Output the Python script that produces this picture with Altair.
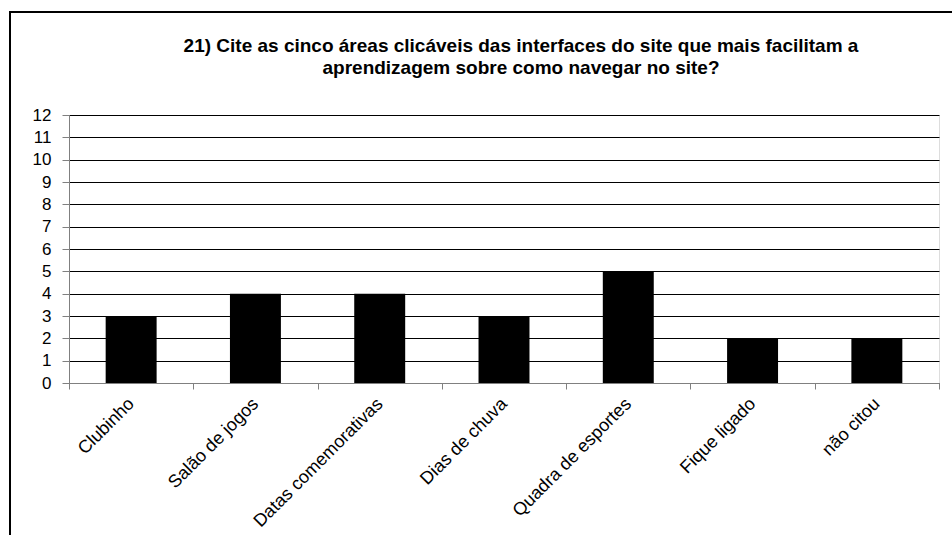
import altair as alt
import pandas as pd

categories = ["Clubinho", "Salão de jogos", "Datas comemorativas", "Dias de chuva",
              "Quadra de esportes", "Fique ligado", "não citou"]
values = [3, 4, 4, 3, 5, 2, 2]
y_ticks = list(range(0, 13))
title_line1 = "21) Cite as cinco áreas clicáveis das interfaces do site que mais facilitam a"
title_line2 = "aprendizagem sobre como navegar no site?"

df = pd.DataFrame({"cat": categories, "val": values})
FONT = "Liberation Sans"

x_enc = alt.X("cat:N", sort=categories, title=None,
              scale=alt.Scale(paddingInner=0, paddingOuter=0),
              axis=alt.Axis(labelAngle=-45, labelAlign="right", labelBaseline="middle",
                            labelFontSize=18, labelFont=FONT, labelColor="black",
                            labelPadding=12, tickBand="extent", tickSize=6,
                            tickColor="#808080", domainColor="#808080", grid=False))
y_enc = alt.Y("val:Q", title=None,
              scale=alt.Scale(domain=[0, 12], nice=False),
              axis=alt.Axis(values=y_ticks, labelFontSize=17, labelFont=FONT,
                            labelColor="black", tickSize=7, tickColor="#808080",
                            domainColor="#808080", gridColor="black", gridWidth=1,
                            labelPadding=11, gridOpacity=1))

bars = alt.Chart(df).mark_bar(color="black", width={"band": 0.41}).encode(x=x_enc, y=y_enc)


def title_text(line, ypos):
    return alt.Chart(pd.DataFrame({"line": [line]})).mark_text(
        font=FONT, fontSize=19, fontWeight="bold", color="black",
        align="center", baseline="alphabetic").encode(
        x=alt.value(452), y=alt.value(ypos), text="line:N")


frame_left = alt.Chart(df).mark_rule(color="black", strokeWidth=2).encode(
    x=alt.value(-59), y=alt.value(-103), y2=alt.value(600))
frame_top = alt.Chart(df).mark_rule(color="black", strokeWidth=2).encode(
    x=alt.value(-60), x2=alt.value(1100), y=alt.value(-103))

chart = alt.layer(bars, title_text(title_line1, -63), title_text(title_line2, -41.5),
                  frame_left, frame_top).properties(
    width=870, height=268,
    autosize=alt.AutoSizeParams(type="none"),
    padding={"left": 69, "top": 115, "right": 13, "bottom": 152},
).configure_view(stroke="#808080", strokeWidth=1).configure(background="white")

chart.save("out.html", embed_options={"renderer": "svg", "actions": False})
